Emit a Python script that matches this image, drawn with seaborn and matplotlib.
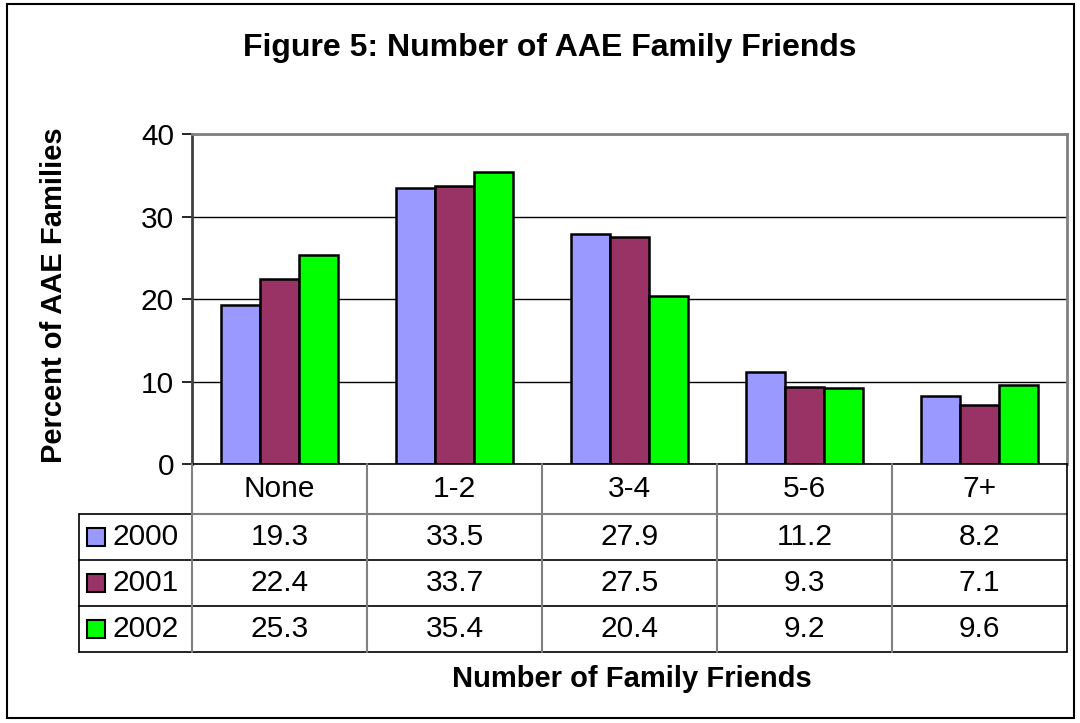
import matplotlib
matplotlib.use("Agg")
import matplotlib.pyplot as plt
from matplotlib.lines import Line2D
from matplotlib.patches import Rectangle
from matplotlib.transforms import blended_transform_factory
import seaborn as sns
import pandas as pd

# Survey results: percent of families by number of family friends
categories = ["None", "1-2", "3-4", "5-6", "7+"]
years = ["2000", "2001", "2002"]
values_2000 = [19.3, 33.5, 27.9, 11.2, 8.2]
values_2001 = [22.4, 33.7, 27.5, 9.3, 7.1]
values_2002 = [25.3, 35.4, 20.4, 9.2, 9.6]
y_ticks = [0, 10, 20, 30, 40]

colors = ["#9999FF", "#993366", "#00FF00"]
series = [values_2000, values_2001, values_2002]

df = pd.DataFrame({
    "category": categories * 3,
    "year": [y for y in years for _ in categories],
    "value": values_2000 + values_2001 + values_2002,
})

sns.set_style("white")
plt.rcParams["font.family"] = ["Liberation Sans", "DejaVu Sans"]
plt.rcParams["text.color"] = "black"
plt.rcParams["ytick.color"] = "black"
plt.rcParams["ytick.labelcolor"] = "black"

W, H = 1080, 723
fig = plt.figure(figsize=(W / 100, H / 100), dpi=100)


def fx(px):
    return px / W


def fy(py):
    return 1 - py / H


# plot area in pixel coordinates
left, right, top, bottom = 192, 1067, 134, 464
ax = fig.add_axes([fx(left), fy(bottom), fx(right - left), (bottom - top) / H])

sns.barplot(data=df, x="category", y="value", hue="year", order=categories,
            hue_order=years, palette=colors, width=0.67, gap=0,
            edgecolor="black", linewidth=1.8, saturation=1, ax=ax, legend=False)

ax.set_ylim(0, 40)
ax.set_xlim(-0.5, len(categories) - 0.5)
ax.set_yticks(y_ticks)
ax.set_yticklabels([str(t) for t in y_ticks], fontsize=21.5, color="black")
ax.tick_params(axis="y", direction="out", length=7, width=1.2, color="black",
               left=True, pad=6)
ax.tick_params(axis="x", bottom=False, labelbottom=False)
ax.set_xlabel("")
ax.set_ylabel("")
ax.yaxis.grid(True, color="black", linewidth=1.0)
ax.set_axisbelow(True)
for side in ["top", "right"]:
    ax.spines[side].set_color("#808080")
    ax.spines[side].set_linewidth(2)
ax.spines["left"].set_color("#404040")
ax.spines["left"].set_linewidth(2)
ax.spines["bottom"].set_color("black")
ax.spines["bottom"].set_linewidth(1.2)

# data table below the plot area
tr = blended_transform_factory(ax.transData, fig.transFigure)
row_lines = [464, 514, 560, 606, 652]
table_left = 79


def hline(x0, x1, y, color="black", lw=1.2):
    fig.add_artist(Line2D([fx(x0), fx(x1)], [fy(y), fy(y)], color=color,
                          linewidth=lw, transform=fig.transFigure))


def vline(x, y0, y1, color="#808080", lw=1.5):
    fig.add_artist(Line2D([fx(x), fx(x)], [fy(y0), fy(y1)], color=color,
                          linewidth=lw, transform=fig.transFigure))


hline(left, right, row_lines[1], color="#808080", lw=1.5)
for y in row_lines[2:]:
    hline(table_left, right, y)
hline(table_left, left, row_lines[1])
vline(table_left, row_lines[1], row_lines[-1], color="black", lw=1.2)
vline(right, row_lines[0], row_lines[-1], color="black", lw=1.2)
col_width = (right - left) / len(categories)
for i in range(len(categories)):
    vline(left + i * col_width, row_lines[0], row_lines[-1])

# header row with category names
for i, cat in enumerate(categories):
    fig.text(i, fy((row_lines[0] + row_lines[1]) / 2), cat, transform=tr,
             ha="center", va="center", fontsize=21.5)

# one row per year: legend key, label and values
for r, (yr, vals, col) in enumerate(zip(years, series, colors)):
    yc = (row_lines[r + 1] + row_lines[r + 2]) / 2
    fig.add_artist(Rectangle((fx(87), fy(yc + 9)), fx(18), 18 / H,
                             facecolor=col, edgecolor="black", linewidth=1.5,
                             transform=fig.transFigure))
    fig.text(fx(112), fy(yc), yr, ha="left", va="center", fontsize=21.5)
    for i, v in enumerate(vals):
        fig.text(i, fy(yc), f"{v:.1f}", transform=tr, ha="center",
                 va="center", fontsize=21.5)

# titles
fig.text(fx(550), fy(48), "Figure 5: Number of AAE Family Friends",
         ha="center", va="center", fontsize=23, fontweight="bold")
fig.text(fx(632), fy(679), "Number of Family Friends", ha="center",
         va="center", fontsize=21, fontweight="bold")
fig.text(fx(54), fy(295), "Percent of AAE Families", ha="center",
         va="center", rotation=90, fontsize=21, fontweight="bold")

# chart border
fig.add_artist(Rectangle((fx(7), fy(718)), fx(1067), 714 / H, fill=False,
                         edgecolor="black", linewidth=1.5,
                         transform=fig.transFigure))

fig.savefig("out.png", dpi=100, facecolor="white")
